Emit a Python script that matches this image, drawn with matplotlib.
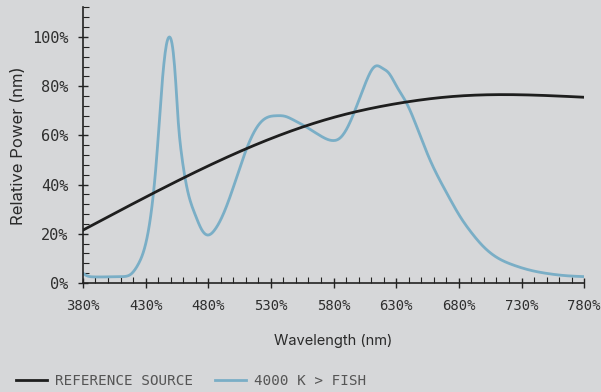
import matplotlib
matplotlib.use("Agg")
import matplotlib.pyplot as plt
from matplotlib.ticker import MultipleLocator, FuncFormatter
from matplotlib.lines import Line2D
import numpy as np

# ----------------------------------------------------------
# Data
# ----------------------------------------------------------

ref_nm = [380, 430, 480, 530, 580, 630, 680, 730, 780]
ref_val = [21.5, 34.9, 47.6, 58.7, 67.3, 72.9, 76.0, 76.5, 75.5]

fish_nm = [380, 383, 388, 400, 412, 418, 424, 429.5, 434, 439, 443, 446, 449,
           451.5, 454, 456, 458.5, 461.4, 465, 469.4, 475, 479.5, 485, 492,
           502.7, 510.7, 521.3, 528, 534.6, 541, 547.9, 557, 569, 579.8, 584,
           589.2, 597.2, 606.5, 611, 614.5, 619, 623.8, 630.5, 638.4, 646.4,
           657, 670.4, 681, 690, 699.6, 710, 723.5, 737, 752.9, 765, 780]
fish_val = [4.0, 3.0, 2.5, 2.5, 2.6, 3.5, 7.5, 14.8, 27, 52, 80, 95, 100,
            96, 82, 66, 53, 43, 34.5, 28, 21.5, 19.5, 21.5, 28,
            43, 54.7, 65, 67.5, 68, 67.8, 66.3, 63.8, 60, 57.9, 58.5,
            61.5, 70.3, 82.5, 87, 88.3, 87.3, 85.5, 79.8, 73, 63.5,
            50, 36.5, 27, 20.5, 14.8, 10.5, 7.3, 5.2, 3.7, 3.0, 2.6]

x_ticks = [380, 430, 480, 530, 580, 630, 680, 730, 780]

BG = "#d6d7d9"
BLACK = "#1e1e1e"
BLUE = "#7aaec6"


def spline(xs, ys, n=800):
    # natural cubic spline through the read points
    xs = np.asarray(xs, float)
    ys = np.asarray(ys, float)
    k = len(xs)
    h = np.diff(xs)
    A = np.zeros((k, k))
    b = np.zeros(k)
    A[0, 0] = A[-1, -1] = 1
    for i in range(1, k - 1):
        A[i, i - 1] = h[i - 1]
        A[i, i] = 2 * (h[i - 1] + h[i])
        A[i, i + 1] = h[i]
        b[i] = 3 * ((ys[i + 1] - ys[i]) / h[i] - (ys[i] - ys[i - 1]) / h[i - 1])
    c = np.linalg.solve(A, b)
    bb = (ys[1:] - ys[:-1]) / h - h * (2 * c[:-1] + c[1:]) / 3
    d = (c[1:] - c[:-1]) / (3 * h)
    xx = np.linspace(xs[0], xs[-1], n)
    idx = np.clip(np.searchsorted(xs, xx) - 1, 0, k - 2)
    t = xx - xs[idx]
    yy = ys[idx] + bb[idx] * t + c[idx] * t**2 + d[idx] * t**3
    return xx, yy


# ----------------------------------------------------------
# Plot
# ----------------------------------------------------------

fig = plt.figure(figsize=(6.01, 3.92), dpi=100, facecolor=BG)
ax = fig.add_axes([0.138, 0.278, 0.834, 0.703], facecolor=BG)

rx, ry = spline(ref_nm, ref_val)
fx, fy = spline(fish_nm, fish_val)
ax.plot(rx, ry, color=BLACK, lw=2, zorder=3)
ax.plot(fx, fy, color=BLUE, lw=2, zorder=2)

ax.set_xlim(380, 780)
ax.set_ylim(0, 112)

ax.set_xticks(x_ticks)
ax.xaxis.set_minor_locator(MultipleLocator(10))
ax.yaxis.set_major_locator(MultipleLocator(20))
ax.yaxis.set_minor_locator(MultipleLocator(4))
pct = FuncFormatter(lambda v, p: f"{v:.0f}%")
ax.xaxis.set_major_formatter(pct)
ax.yaxis.set_major_formatter(pct)

for s in ["top", "right"]:
    ax.spines[s].set_visible(False)
for s in ["left", "bottom"]:
    ax.spines[s].set_color("#222222")
    ax.spines[s].set_linewidth(1.2)

ax.tick_params(which="major", direction="inout", length=7, width=1,
               color="#222222", labelcolor="#2e2e2e")
ax.tick_params(which="minor", direction="in", length=4, width=0.8,
               color="#222222")
ax.tick_params(axis="x", which="major", pad=8, labelsize=10)
ax.tick_params(axis="y", which="major", pad=7, labelsize=11)
for lab in ax.get_xticklabels() + ax.get_yticklabels():
    lab.set_family("DejaVu Sans Mono")

ax.set_xlabel("Wavelength (nm)", family="Inter", fontsize=10.5,
              color="#2a2a2a", labelpad=15)
ax.set_ylabel("Relative Power (nm)", family="Inter", fontsize=12,
              color="#2a2a2a", labelpad=4)

handles = [Line2D([], [], color=BLACK, lw=2),
           Line2D([], [], color=BLUE, lw=2)]
leg = fig.legend(handles, ["REFERENCE SOURCE", "4000 K > FISH"],
                 loc="center left", bbox_to_anchor=(0.005, 1 - 381 / 392), ncol=2,
                 frameon=False, handlelength=2.2, handletextpad=0.55,
                 columnspacing=1.5,
                 prop={"family": "DejaVu Sans Mono", "size": 10.3})
for t in leg.get_texts():
    t.set_color("#555555")

fig.savefig("out.png", dpi=100, facecolor=BG)
